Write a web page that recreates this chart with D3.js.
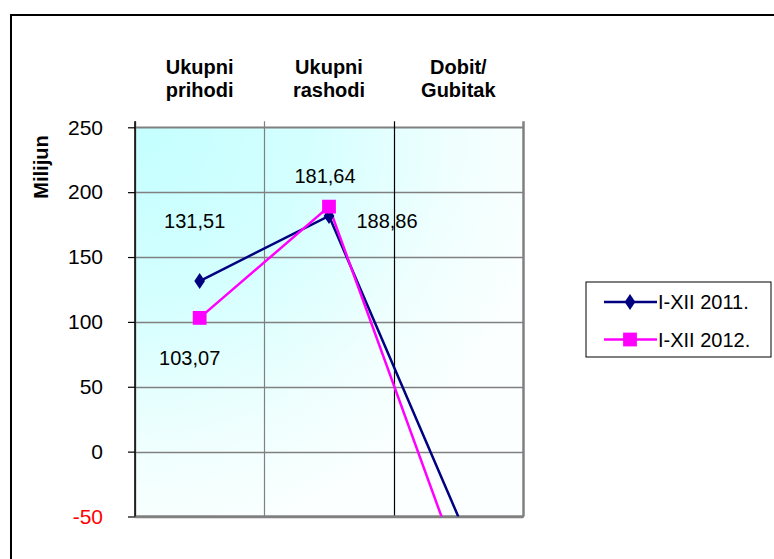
<!DOCTYPE html>
<html>
<head>
<meta charset="utf-8">
<script src="https://cdn.jsdelivr.net/npm/d3@7/dist/d3.min.js"></script>
<style>
  html, body { margin: 0; padding: 0; background: #fff; }
  svg { display: block; font-family: "Liberation Sans", Arial, sans-serif; }
</style>
</head>
<body>
<svg id="chart" width="774" height="559"></svg>
<script>
// ---- data ----
const categories = ["Ukupni prihodi", "Ukupni rashodi", "Dobit/ Gubitak"];
const categoryLines = [["Ukupni", "prihodi"], ["Ukupni", "rashodi"], ["Dobit/", "Gubitak"]];
const seriesNames = ["I-XII 2011.", "I-XII 2012."];
const values2011 = [131.51, 181.64, -50.13];
const values2012 = [103.07, 188.86, -85.79];
const labels2011 = ["131,51", "181,64", ""];
const labels2012 = ["103,07", "188,86", ""];
const yTicks = [-50, 0, 50, 100, 150, 200, 250];
const yTickLabels = ["-50", "0", "50", "100", "150", "200", "250"];
const yTitle = "Milijun";

// ---- layout ----
const plot = { left: 135, right: 523, top: 127.3, bottom: 516.5 };
const colors = ["#000080", "#ff00ff"];
// label offsets relative to point (dx, dy of text center)
const labelOffsets = [
  [[-5, -60], [-4, -40], [0, 0]],
  [[-10, 40], [58, 14], [0, 0]]
];

const svg = d3.select("#chart");

const x = d3.scaleBand().domain(categories).range([plot.left, plot.right]);
const y = d3.scaleLinear().domain([-50, 250]).range([plot.bottom, plot.top]);
const cx = d => x(d) + x.bandwidth() / 2;

// outer border
svg.append("rect").attr("x", 11).attr("y", 15).attr("width", 900).attr("height", 700)
  .attr("fill", "#fff").attr("stroke", "#000").attr("stroke-width", 2);

// gradient
const defs = svg.append("defs");
const grad = defs.append("radialGradient").attr("id", "bg")
  .attr("cx", "0%").attr("cy", "0%").attr("r", "110%").attr("fx", "0%").attr("fy", "0%");
grad.append("stop").attr("offset", "0%").attr("stop-color", "#c4ffff");
grad.append("stop").attr("offset", "40%").attr("stop-color", "#d4ffff");
grad.append("stop").attr("offset", "75%").attr("stop-color", "#effffe");
grad.append("stop").attr("offset", "100%").attr("stop-color", "#fcffff");
defs.append("clipPath").attr("id", "clip").append("rect")
  .attr("x", plot.left).attr("y", plot.top)
  .attr("width", plot.right - plot.left).attr("height", plot.bottom - plot.top);

svg.append("rect").attr("x", plot.left).attr("y", plot.top)
  .attr("width", plot.right - plot.left).attr("height", plot.bottom - plot.top)
  .attr("fill", "url(#bg)");

// horizontal gridlines
svg.append("g").selectAll("line").data(yTicks).join("line")
  .attr("x1", plot.left).attr("x2", plot.right)
  .attr("y1", d => Math.round(y(d)) + 0.5).attr("y2", d => Math.round(y(d)) + 0.5)
  .attr("stroke", "#808080").attr("stroke-width", d => (d === 250 ? 2 : 1.5));

// vertical gridlines
const vx = categories.map(c => x(c)).concat([plot.right]);
svg.append("g").selectAll("line").data(vx).join("line")
  .attr("x1", d => Math.round(d) + 0.5).attr("x2", d => Math.round(d) + 0.5)
  .attr("y1", plot.top - 6).attr("y2", plot.bottom)
  .attr("stroke", (d, i) => (i === 2 ? "#000" : "#808080"))
  .attr("stroke-width", (d, i) => (i === 0 ? 1.5 : i === 3 ? 2.5 : 1.2));

// bottom border
svg.append("line").attr("x1", plot.left).attr("x2", plot.right + 1)
  .attr("y1", plot.bottom).attr("y2", plot.bottom)
  .attr("stroke", "#808080").attr("stroke-width", 2.5);

// left axis
const yAxis = d3.axisLeft(y).tickValues(yTicks).tickSize(7).tickPadding(25)
  .tickFormat(d => yTickLabels[yTicks.indexOf(d)]);
const ag = svg.append("g").attr("transform", `translate(${plot.left},0)`).call(yAxis);
ag.select(".domain").attr("stroke", "#000").attr("stroke-width", 1.5)
  .attr("d", `M0,${plot.top - 6}V${plot.bottom}`);
ag.selectAll(".tick line").attr("stroke", "#000").attr("stroke-width", 1.2);
ag.selectAll(".tick text")
  .attr("font-size", 21).attr("font-family", "Liberation Sans, Arial, sans-serif")
  .attr("fill", d => (d < 0 ? "#ff0000" : "#000"));

// category labels (top)
const cg = svg.append("g");
categoryLines.forEach((lines, i) => {
  const t = cg.append("text").attr("x", cx(categories[i])).attr("text-anchor", "middle")
    .attr("font-size", 20).attr("font-weight", "bold");
  lines.forEach((ln, j) => t.append("tspan").attr("x", cx(categories[i])).attr("y", 74 + j * 23).text(ln));
});

// y title
svg.append("text").attr("transform", "translate(48,167) rotate(-90)")
  .attr("text-anchor", "middle").attr("font-size", 20).attr("font-weight", "bold").text(yTitle);

// series
const series = [values2011, values2012];
const labels = [labels2011, labels2012];
const lineGen = d3.line().x((d, i) => cx(categories[i])).y(d => y(d));
const sg = svg.append("g").attr("clip-path", "url(#clip)");
series.forEach((vals, s) => {
  sg.append("path").datum(vals).attr("d", lineGen)
    .attr("fill", "none").attr("stroke", colors[s]).attr("stroke-width", 2.5);
});
series.forEach((vals, s) => {
  const sym = s === 0 ? d3.symbolDiamond : d3.symbolSquare;
  const size = s === 0 ? 75 : 190;
  const pts = vals.map((v, i) => ({ v, i })).filter(p => p.v >= y.domain()[0] && p.v <= y.domain()[1]);
  sg.selectAll(null).data(pts).join("path")
    .attr("transform", p => `translate(${cx(categories[p.i])},${y(p.v)})` + (s === 0 ? " scale(1.15,1)" : ""))
    .attr("d", d3.symbol().type(sym).size(size))
    .attr("fill", colors[s]);
});

// data labels
series.forEach((vals, s) => {
  vals.forEach((v, i) => {
    if (!labels[s][i]) return;
    svg.append("text")
      .attr("x", cx(categories[i]) + labelOffsets[s][i][0])
      .attr("y", y(v) + labelOffsets[s][i][1])
      .attr("dy", "0.35em").attr("text-anchor", "middle").attr("font-size", 20)
      .text(labels[s][i]);
  });
});

// legend
const lg = svg.append("g");
lg.append("rect").attr("x", 586).attr("y", 282).attr("width", 185).attr("height", 75)
  .attr("fill", "#fff").attr("stroke", "#000").attr("stroke-width", 1);
seriesNames.forEach((name, s) => {
  const ly = 302 + s * 37.5;
  lg.append("line").attr("x1", 604).attr("x2", 657).attr("y1", ly).attr("y2", ly)
    .attr("stroke", colors[s]).attr("stroke-width", 2.5);
  lg.append("path").attr("transform", `translate(630,${ly})` + (s === 0 ? " scale(1.15,1)" : ""))
    .attr("d", d3.symbol().type(s === 0 ? d3.symbolDiamond : d3.symbolSquare).size(s === 0 ? 75 : 190))
    .attr("fill", colors[s]);
  lg.append("text").attr("x", 658).attr("y", ly).attr("dy", "0.35em")
    .attr("font-size", 20).text(name);
});
</script>
</body>
</html>
